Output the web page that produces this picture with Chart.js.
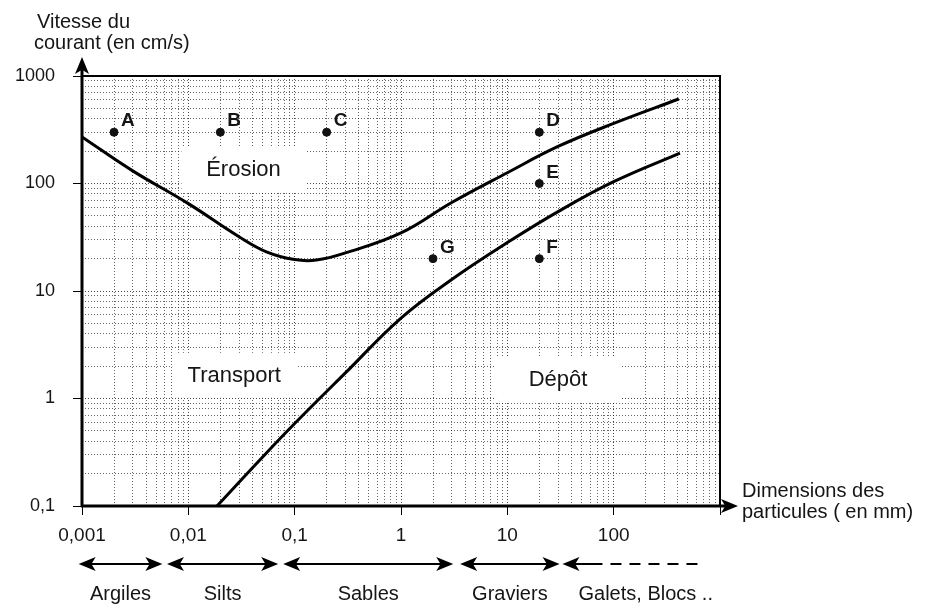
<!DOCTYPE html>
<html lang="fr">
<head>
<meta charset="utf-8">
<title>Diagramme de Hjulström</title>
<script src="https://cdn.jsdelivr.net/npm/chart.js@4.4.1/dist/chart.umd.min.js"></script>
<style>
  html, body { margin: 0; padding: 0; background: #fff; }
  #wrap { width: 927px; height: 609px; }
</style>
</head>
<body>
<div id="wrap"><canvas id="hjulstrom" width="927" height="609"></canvas></div>
<script>
// valeurs : taille en mm, vitesse en cm/s
const erosionSize = [0.001, 0.003, 0.01, 0.03, 0.055, 0.1, 0.16, 0.3, 1, 3, 10, 30, 100, 410];
const erosionSpeed = [271, 131, 65, 32, 23, 19.6, 19.4, 22.6, 34.7, 66.6, 126, 221, 362, 611];
const depotSize = [0.0186, 0.05, 0.1, 0.3, 1, 3, 10, 30, 100, 420];
const depotSpeed = [0.1, 0.286, 0.585, 1.73, 5.6, 12.8, 28.2, 54.8, 104, 192];

const pointNames = ['A', 'B', 'C', 'D', 'E', 'F', 'G'];
const pointSize = [0.002, 0.02, 0.2, 20, 20, 20, 2];
const pointSpeed = [300, 300, 300, 300, 100, 20, 20];

const xDecades = [0.001, 0.01, 0.1, 1, 10, 100, 1000];
const yDecades = [0.1, 1, 10, 100, 1000];

const zoneNames = ['Érosion', 'Transport', 'Dépôt'];
const zoneSize = [0.033, 0.027, 30];
const zoneSpeed = [136, 1.66, 1.52];

const classNames = ['Argiles', 'Silts', 'Sables', 'Graviers', 'Galets, Blocs ..'];
const classFrom = [0.00093, 0.0063, 0.078, 3.6, 33];
const classTo = [0.0057, 0.07, 3.1, 31, 650];

const FONT = '"Liberation Sans", Arial, sans-serif';

function gridTicks(decades) {
    const out = [];
    decades.forEach((d, i) => {
        out.push({ value: d, decade: true });
        if (i < decades.length - 1) {
            for (let m = 2; m <= 9; m++) out.push({ value: +(d * m).toPrecision(3), decade: false });
        }
    });
    return out;
}

function frLabel(v) {
    return String(v).replace('.', ',');
}

function toPoints(xs, ys) {
    return xs.map((v, i) => ({ x: v, y: ys[i] }));
}

function head(ctx, tx, ty, dx, dy, len, half) {
    ctx.beginPath();
    ctx.moveTo(tx, ty);
    ctx.lineTo(tx - dx * len - dy * half, ty - dy * len + dx * half);
    ctx.lineTo(tx - dx * len * 0.75, ty - dy * len * 0.75);
    ctx.lineTo(tx - dx * len + dy * half, ty - dy * len - dx * half);
    ctx.closePath();
    ctx.fill();
}

const decor = {
    id: 'decor',
    beforeDatasetsDraw(chart) {
        const { ctx, scales: { x, y } } = chart;
        ctx.save();
        ctx.font = '22px ' + FONT;
        ctx.textAlign = 'center';
        ctx.textBaseline = 'middle';
        zoneNames.forEach((name, i) => {
            const cx = x.getPixelForValue(zoneSize[i]);
            const cy = y.getPixelForValue(zoneSpeed[i]);
            ctx.fillStyle = '#fff';
            ctx.fillRect(cx - 62, cy - 22, 124, 45);
            ctx.fillStyle = '#151515';
            ctx.fillText(name, cx, cy + 1);
        });
        ctx.restore();
    },
    afterDatasetsDraw(chart) {
        const { ctx } = chart;
        const meta = chart.getDatasetMeta(2);
        ctx.save();
        ctx.font = 'bold 19px ' + FONT;
        ctx.fillStyle = '#151515';
        ctx.textAlign = 'left';
        ctx.textBaseline = 'alphabetic';
        meta.data.forEach((pt, i) => {
            ctx.fillText(pointNames[i], pt.x + 7, pt.y - 6);
        });
        ctx.restore();
    },
    afterDraw(chart) {
        const { ctx, chartArea: a, scales: { x } } = chart;
        ctx.save();
        ctx.fillStyle = '#000';
        ctx.strokeStyle = '#000';

        // cadre
        ctx.lineWidth = 2;
        ctx.beginPath();
        ctx.moveTo(a.left, a.top);
        ctx.lineTo(a.right, a.top);
        ctx.lineTo(a.right, a.bottom);
        ctx.stroke();

        // axes avec flèches
        ctx.lineWidth = 3;
        ctx.beginPath();
        ctx.moveTo(a.left, a.bottom + 1);
        ctx.lineTo(a.left, a.top - 6);
        ctx.moveTo(a.left - 1, a.bottom);
        ctx.lineTo(a.right + 6, a.bottom);
        ctx.stroke();
        head(ctx, a.left, a.top - 19, 0, -1, 17, 7);
        head(ctx, a.right + 18, a.bottom, 1, 0, 17, 7);

        // titres des axes
        ctx.fillStyle = '#151515';
        ctx.font = '20px ' + FONT;
        ctx.textAlign = 'left';
        ctx.textBaseline = 'alphabetic';
        ctx.fillText('Vitesse du', 37, 28);
        ctx.fillText('courant (en cm/s)', 34, 49);
        ctx.fillText('Dimensions des', 742, 497);
        ctx.fillText('particules ( en mm)', 742, 518);

        // classes granulométriques
        const ay = 564;
        ctx.fillStyle = '#000';
        classNames.forEach((name, i) => {
            const x0 = x.getPixelForValue(classFrom[i]);
            const x1 = x.getPixelForValue(classTo[i]);
            const last = i === classNames.length - 1;
            ctx.lineWidth = 2;
            ctx.beginPath();
            ctx.moveTo(x0 + 8, ay);
            ctx.lineTo(last ? x0 + 40 : x1 - 8, ay);
            ctx.stroke();
            head(ctx, x0, ay, -1, 0, 17, 7);
            if (last) {
                ctx.setLineDash([11, 8]);
                ctx.beginPath();
                ctx.moveTo(x0 + 48, ay);
                ctx.lineTo(x1, ay);
                ctx.stroke();
                ctx.setLineDash([]);
            } else {
                head(ctx, x1, ay, 1, 0, 17, 7);
            }
            ctx.font = '20px ' + FONT;
            ctx.fillStyle = '#151515';
            if (last) {
                ctx.textAlign = 'left';
                ctx.fillText(name, x0 + 16, 600);
            } else {
                ctx.textAlign = 'center';
                ctx.fillText(name, (x0 + x1) / 2, 600);
            }
            ctx.fillStyle = '#000';
        });
        ctx.restore();
    }
};

const gridColor = c => c.tick && c.tick.decade ? 'rgba(0,0,0,0.72)' : 'rgba(0,0,0,0.6)';
const tickColor = c => c.tick && c.tick.decade ? '#000' : 'rgba(0,0,0,0)';

new Chart(document.getElementById('hjulstrom'), {
    type: 'scatter',
    data: {
        datasets: [
            {
                label: 'Érosion',
                data: toPoints(erosionSize, erosionSpeed),
                showLine: true,
                borderColor: '#000',
                borderWidth: 3,
                pointRadius: 0,
                tension: 0.4
            },
            {
                label: 'Dépôt',
                data: toPoints(depotSize, depotSpeed),
                showLine: true,
                borderColor: '#000',
                borderWidth: 3,
                pointRadius: 0,
                tension: 0.4
            },
            {
                label: 'Points',
                data: toPoints(pointSize, pointSpeed),
                showLine: false,
                pointRadius: 4,
                backgroundColor: '#111',
                borderColor: '#111'
            }
        ]
    },
    options: {
        responsive: false,
        animation: false,
        layout: { padding: { top: 76, right: 207, left: 0, bottom: 0 } },
        plugins: {
            legend: { display: false },
            tooltip: { enabled: false }
        },
        scales: {
            x: {
                type: 'logarithmic',
                min: 0.001,
                max: 1000,
                afterBuildTicks: s => { s.ticks = gridTicks(xDecades); },
                afterFit: s => { s.height = 103; },
                border: { display: false, dash: [1, 2] },
                grid: { color: gridColor, tickColor: tickColor, tickLength: 9, lineWidth: 1 },
                ticks: {
                    autoSkip: false,
                    maxRotation: 0,
                    padding: 9,
                    color: '#151515',
                    font: { family: FONT, size: 19 },
                    callback: (v, i, ticks) => ticks[i].decade && v < 1000 ? frLabel(v) : ''
                }
            },
            y: {
                type: 'logarithmic',
                min: 0.1,
                max: 1000,
                afterBuildTicks: s => { s.ticks = gridTicks(yDecades); },
                afterFit: s => { s.width = 82; },
                border: { display: false, dash: [1, 2] },
                grid: { color: gridColor, tickColor: tickColor, tickLength: 9, lineWidth: 1 },
                ticks: {
                    autoSkip: false,
                    padding: 18,
                    color: '#151515',
                    font: { family: FONT, size: 18 },
                    callback: (v, i, ticks) => ticks[i].decade ? frLabel(v) : ''
                }
            }
        }
    },
    plugins: [decor]
});
</script>
</body>
</html>
